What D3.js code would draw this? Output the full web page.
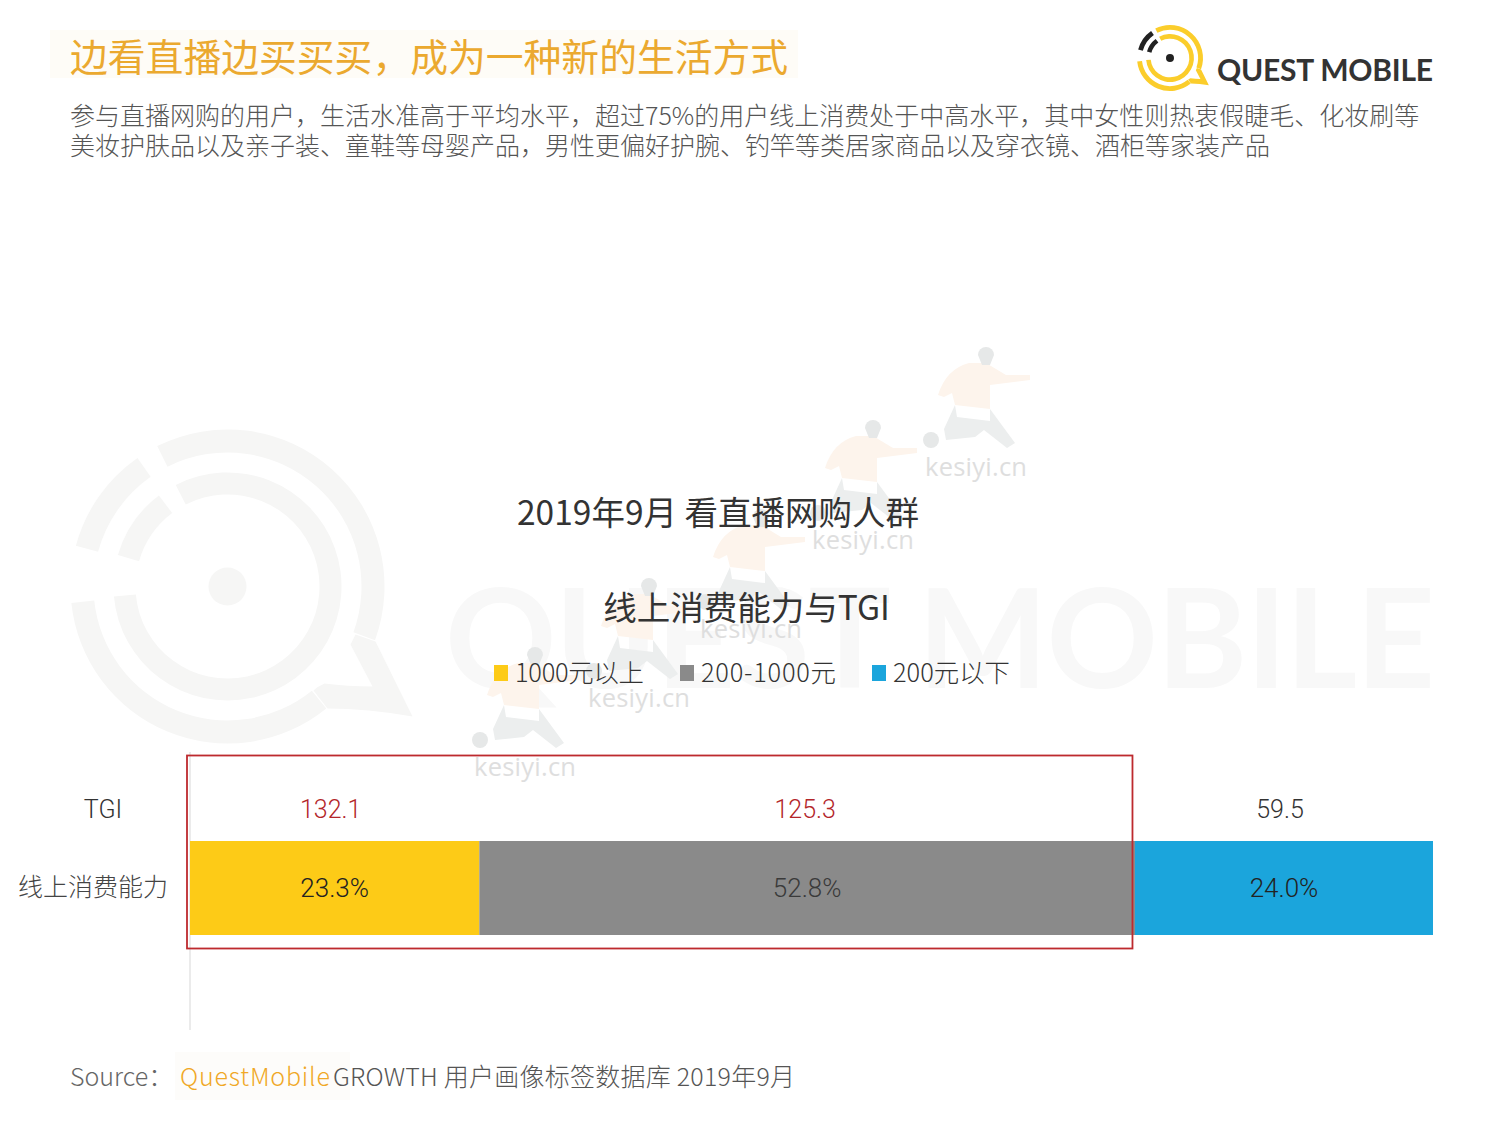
<!DOCTYPE html>
<html><head><meta charset="utf-8">
<script src="https://cdn.jsdelivr.net/npm/d3@7"></script>
<style>html,body{margin:0;padding:0;background:#fff}svg{display:block}
text{font-family:"Noto Sans CJK SC","Noto Sans",sans-serif;font-weight:300}</style></head>
<body><svg id="c" width="1500" height="1128"></svg>
<script>
const segments = ["1000元以上","200-1000元","200元以下"];
const shares = [23.3,52.8,24.0];
const tgi = [132.1,125.3,59.5];
const tgiHighlighted = [true,true,false];
const rowLabels = ["TGI","线上消费能力"];
const colors = ["#fdcb17","#8a8a8a","#1ba5dc"];
const headline = "边看直播边买买买，成为一种新的生活方式";
const intro = ["参与直播网购的用户，生活水准高于平均水平，超过75%的用户线上消费处于中高水平，其中女性则热衷假睫毛、化妆刷等",
"美妆护肤品以及亲子装、童鞋等母婴产品，男性更偏好护腕、钓竿等类居家商品以及穿衣镜、酒柜等家装产品"];
const chartTitle = ["2019年9月 看直播网购人群","线上消费能力与TGI"];
const wmSpots = [[976,467],[863,540],[751,629],[639,698],[525,767]];

const svg = d3.select("#c");
const cum = d3.cumsum(shares);
const x = d3.scaleLinear().domain([0,d3.sum(shares)]).range([190,1433]);
const barY = 841, barH = 94;
const rad = d=>d*Math.PI/180;

function drawLogo(cx,cy,k,ringColor,accent){
  const g = svg.append("g").attr("transform",`translate(${cx},${cy}) scale(${k})`);
  const arc = (r0,r1,a0,a1,c)=>g.append("path").attr("d",d3.arc()({innerRadius:r0,outerRadius:r1,startAngle:rad(a0),endAngle:rad(a1)})).attr("fill",c);
  arc(134,157,-26.6,110,ringColor);
  arc(134,157,141,264,ringColor);
  g.append("path").attr("d","M148,55L185,130Q140,122 100,122L86,104Q90,100 97,97Q120,100 145,100L123,58L128,48Z").attr("fill",ringColor);
  arc(92,114,-27,265,ringColor);
  arc(134,157,-75,-35,accent);
  arc(92,114,-74,-37,accent);
  g.append("circle").attr("r",19).attr("fill",accent);
}

// background watermark
drawLogo(227.5,586.5,1,"#f6f6f5","#f6f6f5");
svg.append("text").attr("x",445).attr("y",688).attr("font-size",138).style("font-family","Lato,sans-serif").style("font-weight",700).attr("fill","#f8f8f8").attr("textLength",990).text("QUEST MOBILE");

// running figure watermarks
wmSpots.forEach(([cx,cy])=>{
  const g = svg.append("g").attr("transform",`translate(${cx},${cy})`);
  g.append("path").attr("d","M-21,-62L-19,-50L14,-46L14,-58L39,-24L31,-19L8,-37L-1,-30L-30,-27L-32,-38Z").attr("fill","#eceeee");
  g.append("circle").attr("cx",-45).attr("cy",-27).attr("r",8).attr("fill","#e6e8e8");
  g.append("path").attr("d","M-38,-72Q-30,-98 -7,-104L10,-104L30,-92L54,-92L54,-87L14,-82L14,-58L-21,-62L-24,-74L-32,-70Z").attr("fill","#fdf4ec");
  g.append("path").attr("d","M2,-112A8,8 0 1 1 18,-112L14,-102L6,-102Z").attr("fill","#e6e8e8");
  g.append("text").attr("x",0).attr("y",9).attr("text-anchor","middle").attr("font-size",25.5).attr("textLength",102).style("font-family","'Open Sans',sans-serif").style("font-weight",400).attr("fill","#dedede").text("kesiyi.cn");
});

// headline
svg.append("rect").attr("x",50).attr("y",30).attr("width",748).attr("height",48).attr("fill","#fefcf7");
svg.append("text").attr("x",70).attr("y",71).attr("font-size",37.8).style("font-weight",400).attr("fill","#eba92f").text(headline);
svg.append("g").selectAll("text").data(intro).join("text").attr("x",70).attr("y",(d,i)=>125+i*30).attr("font-size",25).attr("fill","#555").text(d=>d);

// brand logo
drawLogo(1170,58,0.21,"#fbcd2b","#222");
svg.append("text").attr("x",1217).attr("y",81).attr("font-size",30).attr("textLength",216).style("font-family","Lato,sans-serif").style("font-weight",700).attr("fill","#333").text("QUEST MOBILE");

// chart titles
svg.append("g").selectAll("text").data(chartTitle).join("text").attr("x",(d,i)=>i?746.5:718).attr("y",(d,i)=>i?620:525).attr("text-anchor","middle").attr("font-size",33.5).style("font-weight",400).attr("fill","#333").text(d=>d);

// legend
const legX=[494,680,872], legW=[129,135,117];
const lg = svg.append("g").selectAll("g").data(segments).join("g").attr("transform",(d,i)=>`translate(${legX[i]},665)`);
lg.append("rect").attr("width",14).attr("height",16).attr("fill",(d,i)=>colors[i]);
lg.append("text").attr("x",21).attr("y",17).attr("font-size",25.4).attr("textLength",(d,i)=>legW[i]).attr("fill","#333").text(d=>d);

// axis line
svg.append("line").attr("x1",190).attr("x2",190).attr("y1",752).attr("y2",1030).attr("stroke","#e4e4e4").attr("stroke-width",1.5);

// stacked bar
svg.append("g").selectAll("rect").data(shares).join("rect")
 .attr("x",(d,i)=>x(cum[i]-d)).attr("width",d=>x(d)-x(0)).attr("y",barY).attr("height",barH).attr("fill",(d,i)=>colors[i]);
svg.append("g").selectAll("text").data(shares).join("text")
 .attr("x",(d,i)=>x(cum[i]-d/2)).attr("y",897).attr("text-anchor","middle").attr("font-size",26).style("font-family","Roboto,sans-serif").attr("fill",(d,i)=>i==1?"#3a3a3a":"#222")
 .text(d=>d.toFixed(1)+"%");
svg.append("g").selectAll("text").data(tgi).join("text")
 .attr("x",(d,i)=>x(cum[i]-shares[i]/2)-(i==1?2:4)).attr("y",818).attr("text-anchor","middle").attr("font-size",25).style("font-family","Roboto,sans-serif").attr("fill",(d,i)=>tgiHighlighted[i]?"#b3262a":"#333")
 .text(d=>d.toFixed(1));
// row labels
svg.append("text").attr("x",103).attr("y",818).attr("text-anchor","middle").attr("font-size",25).style("font-family","Roboto,sans-serif").attr("fill","#333").text(rowLabels[0]);
svg.append("text").attr("x",93).attr("y",896).attr("text-anchor","middle").attr("font-size",25).attr("fill","#444").text(rowLabels[1]);

// highlight box, right edge at the end of the 200-1000元 segment
svg.append("rect").attr("x",187).attr("y",755.5).attr("width",x(cum[1])-2.5-187).attr("height",193).attr("fill","none").attr("stroke","#bd2a2e").attr("stroke-width",1.8);

// source
svg.append("rect").attr("x",175).attr("y",1052).attr("width",175).attr("height",48).attr("fill","#fdfcfa");
svg.append("text").attr("x",70).attr("y",1086).attr("font-size",25).attr("fill","#666").text("Source：");
svg.append("text").attr("x",180).attr("y",1086).attr("font-size",25).attr("fill","#f0a826").attr("textLength",150).text("QuestMobile");
svg.append("text").attr("x",333).attr("y",1086).attr("font-size",25).attr("fill","#555").attr("textLength",462).text("GROWTH 用户画像标签数据库 2019年9月");
</script></body></html>
